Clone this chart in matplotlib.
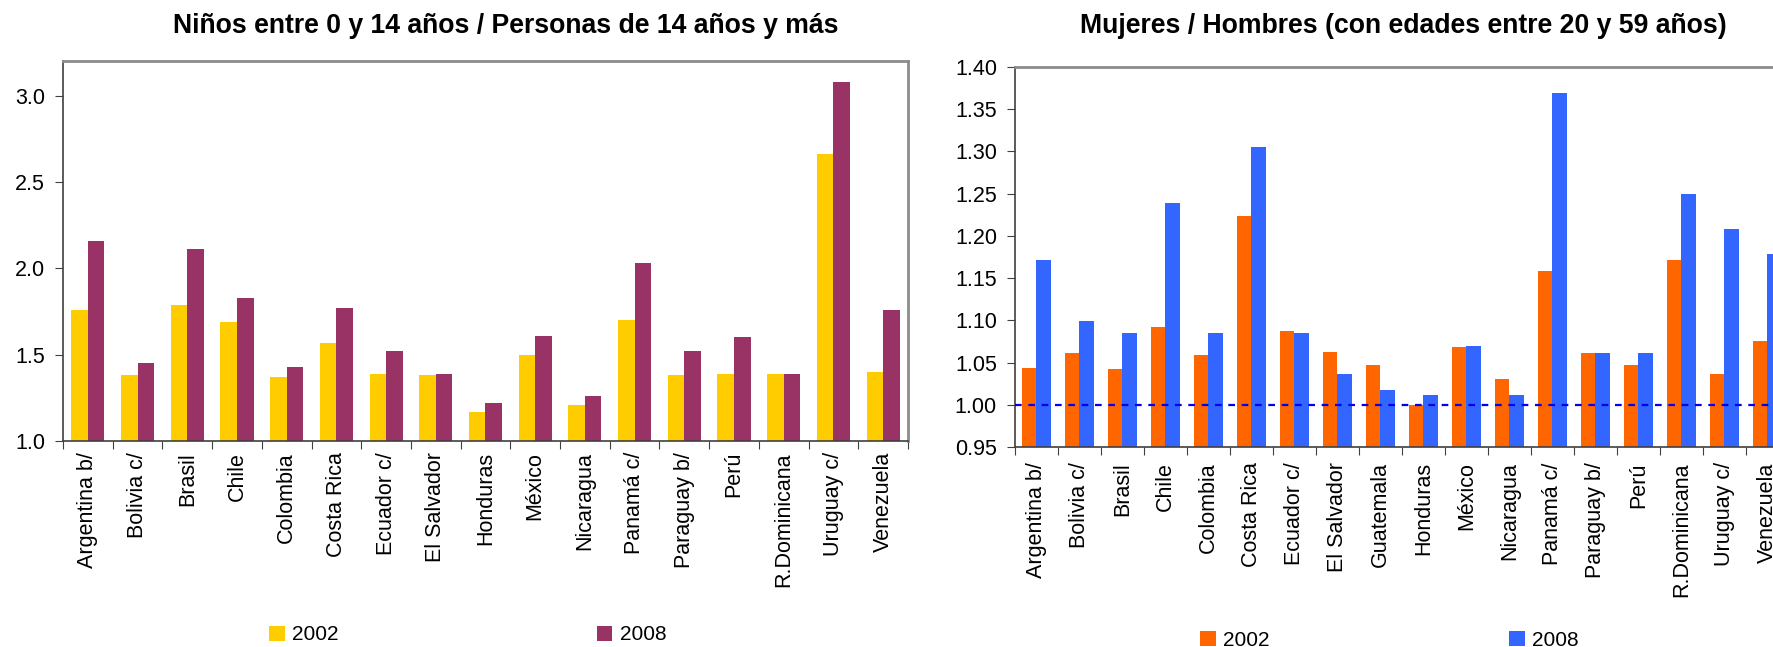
import numpy as np
import matplotlib.pyplot as plt

plt.rcParams['font.family'] = ['Liberation Sans', 'DejaVu Sans']

# ratio children 0-14 / persons 14+
paises_ninos = ["Argentina b/", "Bolivia c/", "Brasil", "Chile", "Colombia",
                "Costa Rica", "Ecuador c/", "El Salvador", "Honduras", "México",
                "Nicaragua", "Panamá c/", "Paraguay b/", "Perú", "R.Dominicana",
                "Uruguay c/", "Venezuela"]
ninos_2002 = [1.76, 1.38, 1.79, 1.69, 1.37, 1.57, 1.39, 1.38, 1.17, 1.50,
              1.21, 1.70, 1.38, 1.39, 1.39, 2.66, 1.40]
ninos_2008 = [2.16, 1.45, 2.11, 1.83, 1.43, 1.77, 1.52, 1.39, 1.22, 1.61,
              1.26, 2.03, 1.52, 1.60, 1.39, 3.08, 1.76]

# ratio women / men, ages 20-59
paises_muj = ["Argentina b/", "Bolivia c/", "Brasil", "Chile", "Colombia",
              "Costa Rica", "Ecuador c/", "El Salvador", "Guatemala", "Honduras",
              "México", "Nicaragua", "Panamá c/", "Paraguay b/", "Perú",
              "R.Dominicana", "Uruguay c/", "Venezuela"]
muj_2002 = [1.044, 1.061, 1.042, 1.092, 1.059, 1.224, 1.087, 1.063, 1.047, 1.000,
            1.068, 1.030, 1.158, 1.061, 1.047, 1.172, 1.037, 1.075]
muj_2008 = [1.172, 1.099, 1.085, 1.239, 1.085, 1.305, 1.085, 1.037, 1.018, 1.011,
            1.070, 1.011, 1.369, 1.061, 1.061, 1.250, 1.208, 1.179]

W, H = 1774, 647
fig = plt.figure(figsize=(W / 100, H / 100), dpi=100)


def panel(rect, cats, v02, v08, c02, c08, ylim, yticks, fmt, lab_pad):
    ax = fig.add_axes(rect)
    x = np.arange(len(cats))
    w = 1 / 3
    ax.bar(x - w / 2, v02, w, color=c02, label="2002", zorder=2)
    ax.bar(x + w / 2, v08, w, color=c08, label="2008", zorder=2)
    ax.set_xlim(-0.5, len(cats) - 0.5)
    ax.set_ylim(*ylim)
    ax.set_yticks(yticks)
    ax.set_yticklabels([fmt.format(t) for t in yticks], fontsize=15.5)
    ax.set_xticks(np.arange(len(cats) + 1) - 0.5)
    ax.set_xticklabels([])
    ax.set_xticks(x, minor=True)
    ax.set_xticklabels(cats, minor=True, rotation=90, fontsize=15.5, va="top", ha="center")
    ax.tick_params(axis="x", which="minor", length=0, pad=lab_pad)
    ax.tick_params(axis="x", which="major", length=6, color="#404040")
    ax.tick_params(axis="y", length=6, color="#404040", pad=7)
    for s in ("top", "right"):
        ax.spines[s].set_color("#8c8c8c")
        ax.spines[s].set_linewidth(2)
    for s in ("left", "bottom"):
        ax.spines[s].set_color("#404040")
        ax.spines[s].set_linewidth(1.2)
    return ax


ax1 = panel([63 / W, 1 - 441 / H, 845 / W, 380 / H], paises_ninos, ninos_2002, ninos_2008,
            "#FFCC00", "#993366", (1.0, 3.2), [1.0, 1.5, 2.0, 2.5, 3.0], "{:.1f}", 8)
ax2 = panel([1015 / W, 1 - 447 / H, 774 / W, 380 / H], paises_muj, muj_2002, muj_2008,
            "#FF6600", "#3366FF", (0.95, 1.40), np.round(np.arange(0.95, 1.401, 0.05), 2),
            "{:.2f}", 11)
ax2.axhline(1.0, color="#0000EE", linestyle=(0, (3, 3)), linewidth=1.6, zorder=3)

fig.text(506 / W, 1 - 33 / H, "Niños entre 0 y 14 años / Personas de 14 años y más",
         ha="center", va="baseline", fontsize=19.2, fontweight="bold")
fig.text(1403 / W, 1 - 33 / H, "Mujeres / Hombres (con edades entre 20 y 59 años)",
         ha="center", va="baseline", fontsize=19.2, fontweight="bold")

ax1.legend(loc="center left", bbox_to_anchor=(269 / W, 1 - 635 / H),
           bbox_transform=fig.transFigure, ncol=2, frameon=False, fontsize=15,
           handlelength=0.75, handleheight=0.75, handletextpad=0.35,
           columnspacing=12.4, borderpad=0, borderaxespad=0)
ax2.legend(loc="center left", bbox_to_anchor=(1200 / W, 1 - 640 / H),
           bbox_transform=fig.transFigure, ncol=2, frameon=False, fontsize=15,
           handlelength=0.75, handleheight=0.75, handletextpad=0.35,
           columnspacing=11.5, borderpad=0, borderaxespad=0)

fig.savefig("out.png", dpi=100)
